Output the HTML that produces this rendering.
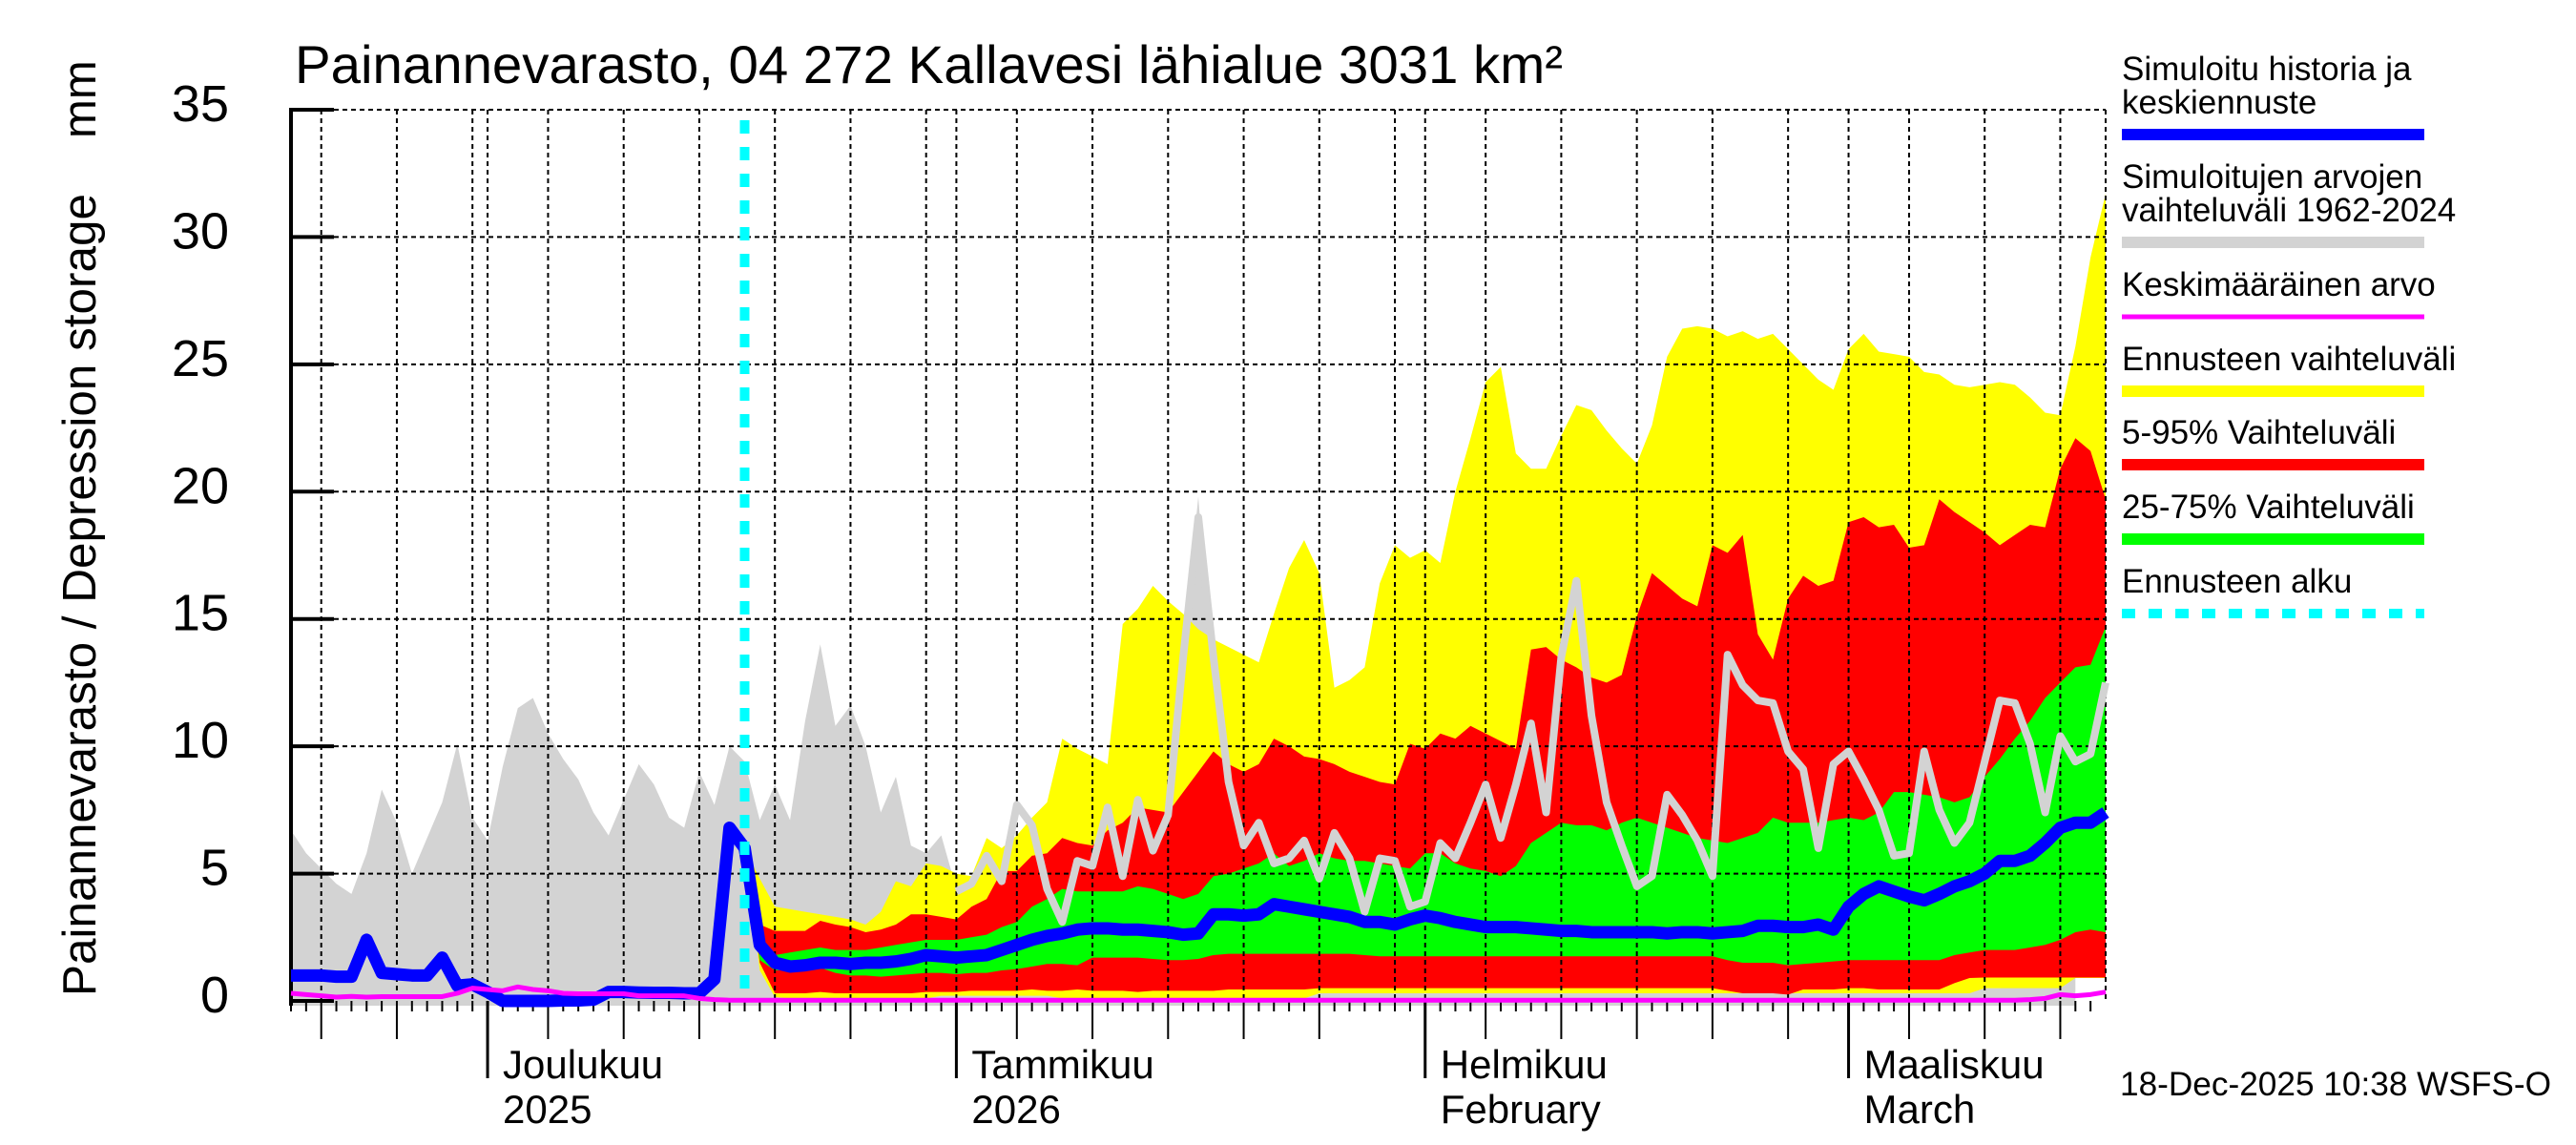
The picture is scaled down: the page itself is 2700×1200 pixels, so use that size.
<!DOCTYPE html>
<html><head><meta charset="utf-8"><title>Painannevarasto</title>
<style>
html,body{margin:0;padding:0;background:#fff;}
svg{display:block;font-family:"Liberation Sans",Arial,sans-serif;}
</style></head>
<body>
<svg id="chart" width="2700" height="1200" viewBox="0 0 2700 1200" xmlns="http://www.w3.org/2000/svg">
<rect x="0" y="0" width="2700" height="1200" fill="#fff"/>
<text x="309" y="87" font-size="56" textLength="1329" lengthAdjust="spacingAndGlyphs">Painannevarasto, 04 272 Kallavesi lähialue 3031 km²</text>
<text transform="translate(100,1044) rotate(-90)" font-size="49" textLength="841" lengthAdjust="spacingAndGlyphs">Painannevarasto / Depression storage</text>
<text transform="translate(100,145) rotate(-90)" font-size="49">mm</text>
<g id="fills"></g><g id="grid"></g><g id="axes"></g><g id="lines"></g>
<g id="legend"></g>
<text x="2222" y="1148" font-size="35" textLength="452" lengthAdjust="spacingAndGlyphs">18-Dec-2025 10:38 WSFS-O</text>
</svg>
<script>
// Day index 0 = 18 Nov 2025, 120 = 18 Mar 2026
const histMax = [6.7,5.8,5.2,4.6,4.2,5.8,8.3,7.0,5.0,6.4,7.8,10.1,7.2,6.3,9.2,11.5,11.9,10.5,9.5,8.7,7.4,6.5,7.9,9.3,8.5,7.2,6.8,9.0,7.7,10.0,9.4,7.1,8.5,7.1,11.0,14.0,10.8,11.6,10.0,7.4,8.8,6.1,5.8,6.5,4.4,4.6,2,2,2,2,2,2,2,2,2,2,2,2,2,14.0,19.8,12.0,2,2,2,2,2,2,2,2,2,2,2,2,2,2,2,2,2,2,2,2,2,2,2,2,2,2,2,2,2,2,2,2,2,2,2,2,2,2,2,2,2,2,2,2,2,2,0.4,0.4,0.5,0.5,0.5,0.5,0.6,0.8,0.9,0.9,0.9];
const simMean = [1.0,1.0,1.0,0.95,0.95,2.4,1.1,1.05,1.0,1.0,1.7,0.6,0.65,0.35,0,0,0,0,0.02,0.02,0.05,0.35,0.35,0.33,0.32,0.32,0.3,0.3,0.85,6.8,6.0,2.2,1.5,1.35,1.4,1.5,1.5,1.45,1.5,1.5,1.55,1.65,1.8,1.75,1.7,1.75,1.8,2.0,2.2,2.4,2.55,2.65,2.8,2.85,2.85,2.8,2.8,2.75,2.7,2.6,2.65,3.4,3.4,3.35,3.4,3.8,3.7,3.6,3.5,3.4,3.3,3.1,3.1,3.0,3.2,3.35,3.25,3.1,3.0,2.9,2.9,2.9,2.85,2.8,2.75,2.75,2.7,2.7,2.7,2.7,2.7,2.65,2.7,2.7,2.65,2.7,2.75,2.95,2.95,2.9,2.9,3.0,2.8,3.7,4.2,4.5,4.3,4.1,3.95,4.2,4.5,4.7,5.0,5.5,5.5,5.7,6.2,6.8,7.0,7.0,7.4];
const avgVal = [0.3,0.25,0.2,0.15,0.18,0.15,0.17,0.17,0.17,0.17,0.17,0.3,0.5,0.45,0.4,0.55,0.45,0.4,0.3,0.28,0.28,0.28,0.28,0.2,0.2,0.2,0.2,0.1,0.05,0.03,0.03,0.03,0.03,0.03,0.03,0.03,0.03,0.03,0.03,0.03,0.03,0.03,0.03,0.03,0.03,0.03,0.03,0.03,0.03,0.03,0.03,0.03,0.03,0.03,0.03,0.03,0.03,0.03,0.03,0.03,0.03,0.03,0.03,0.03,0.03,0.03,0.03,0.03,0.03,0.03,0.03,0.03,0.03,0.03,0.03,0.03,0.03,0.03,0.03,0.03,0.03,0.03,0.03,0.03,0.03,0.03,0.03,0.03,0.03,0.03,0.03,0.03,0.03,0.03,0.03,0.03,0.03,0.03,0.03,0.03,0.03,0.03,0.03,0.03,0.03,0.03,0.03,0.03,0.03,0.03,0.03,0.03,0.03,0.03,0.03,0.05,0.1,0.25,0.2,0.25,0.35];
// forecast series start at day 30
const fcStart = 30;
const fcMax = [6.0,4.8,3.7,3.6,3.5,3.4,3.3,3.2,3.0,3.5,4.7,4.5,5.4,5.3,5.0,4.9,6.4,6.0,6.5,7.2,7.8,10.3,9.9,9.6,9.3,14.8,15.4,16.3,15.7,15.2,14.6,14.2,13.9,13.6,13.3,15.2,17.0,18.1,16.8,12.3,12.6,13.1,16.4,17.9,17.4,17.7,17.2,20.0,22.1,24.3,24.9,21.5,20.9,20.9,22.2,23.4,23.2,22.4,21.7,21.1,22.6,25.3,26.4,26.5,26.4,26.1,26.3,26.0,26.2,25.6,25.0,24.4,24.0,25.6,26.2,25.5,25.4,25.3,24.7,24.6,24.2,24.1,24.2,24.3,24.2,23.7,23.1,23.0,25.7,29.2,31.7];
const fcP95 = [6.0,3.0,2.75,2.75,2.75,3.15,3.0,2.9,2.7,2.8,3.0,3.4,3.4,3.3,3.2,3.7,4.0,5.1,5.1,5.7,5.8,6.4,6.2,6.1,6.7,7.0,7.6,7.5,7.4,8.2,9.0,9.8,9.3,9.0,9.3,10.3,10.0,9.6,9.5,9.3,9.0,8.8,8.6,8.5,10.1,9.9,10.5,10.3,10.8,10.5,10.2,9.9,13.8,13.9,13.4,13.1,12.7,12.5,12.8,15.1,16.8,16.3,15.8,15.5,17.9,17.6,18.3,14.4,13.4,15.8,16.7,16.3,16.5,18.8,19.0,18.6,18.7,17.8,17.9,19.7,19.2,18.8,18.4,17.9,18.3,18.7,18.6,20.9,22.1,21.6,19.7];
const fcP75 = [6.0,2.4,1.8,1.9,2.0,2.1,2.0,2.0,2.0,2.1,2.2,2.3,2.4,2.4,2.4,2.5,2.6,2.9,3.1,3.7,4.0,4.4,4.3,4.3,4.3,4.3,4.5,4.4,4.2,4.0,4.2,4.9,5.0,5.2,5.4,5.8,5.3,5.5,5.8,5.6,5.5,5.5,5.4,5.3,5.2,5.8,5.8,5.4,5.2,5.1,4.9,5.3,6.2,6.6,7.0,6.9,6.9,6.7,7.0,7.2,7.0,6.8,6.6,6.4,6.3,6.2,6.4,6.6,7.2,7.0,7.0,7.0,7.1,7.2,7.1,7.4,8.2,8.2,8.1,8.0,7.8,8.0,8.8,9.5,10.3,11.0,11.9,12.5,13.1,13.2,14.7];
const fcP25 = [6.0,1.6,1.2,1.2,1.25,1.3,1.1,1.0,1.0,0.95,1.0,1.05,1.1,1.1,1.05,1.1,1.1,1.2,1.25,1.35,1.45,1.45,1.4,1.7,1.7,1.7,1.7,1.65,1.6,1.6,1.65,1.8,1.85,1.85,1.85,1.85,1.85,1.85,1.85,1.85,1.85,1.8,1.75,1.75,1.75,1.75,1.75,1.75,1.75,1.75,1.75,1.75,1.75,1.75,1.75,1.75,1.75,1.75,1.75,1.75,1.75,1.75,1.75,1.75,1.75,1.6,1.5,1.5,1.5,1.4,1.45,1.5,1.55,1.6,1.6,1.6,1.6,1.6,1.6,1.6,1.8,1.9,2.0,2.0,2.0,2.1,2.2,2.4,2.7,2.8,2.7];
const fcP5 = [6.0,1.5,0.3,0.3,0.3,0.35,0.3,0.3,0.3,0.3,0.3,0.3,0.35,0.35,0.35,0.4,0.4,0.4,0.4,0.45,0.4,0.4,0.45,0.4,0.4,0.4,0.35,0.4,0.4,0.4,0.4,0.4,0.45,0.45,0.45,0.45,0.45,0.45,0.5,0.5,0.5,0.5,0.5,0.5,0.5,0.5,0.5,0.5,0.5,0.5,0.5,0.5,0.5,0.5,0.5,0.5,0.5,0.5,0.5,0.5,0.5,0.5,0.5,0.5,0.5,0.4,0.3,0.3,0.3,0.25,0.45,0.45,0.45,0.5,0.5,0.45,0.45,0.45,0.45,0.45,0.7,0.9,0.92,0.92,0.92,0.92,0.92,0.92,0.92,0.92,0.92];
const fcMin = [6.0,1.2,0.15,0.1,0.1,0.1,0.1,0.1,0.1,0.1,0.1,0.1,0.1,0.2,0.2,0.2,0.2,0.2,0.2,0.2,0.2,0.1,0.1,0.1,0.1,0.1,0.1,0.1,0.1,0.1,0.1,0.1,0.1,0.1,0.1,0.1,0.1,0.1,0.3,0.3,0.3,0.3,0.3,0.3,0.3,0.3,0.3,0.3,0.3,0.3,0.3,0.3,0.3,0.3,0.3,0.3,0.3,0.3,0.3,0.3,0.3,0.3,0.3,0.3,0.3,0.3,0.3,0.3,0.3,0.3,0.3,0.3,0.3,0.3,0.3,0.3,0.3,0.3,0.3,0.3,0.3,0.3,0.5,0.5,0.5,0.5,0.5,0.5,0.9,0.9,0.9];
// one historical year trace, starts at day 44
const traceStart = 44;
const traceVal = [4.3,4.6,5.7,4.7,7.7,6.9,4.4,3.1,5.5,5.3,7.6,4.9,7.9,5.9,7.3,13.5,19.0,13.5,8.6,6.1,7.0,5.4,5.6,6.3,4.8,6.6,5.6,3.5,5.6,5.5,3.7,3.9,6.2,5.6,7.0,8.5,6.4,8.5,10.9,7.4,13.5,16.5,11.2,7.8,6.1,4.5,4.9,8.1,7.3,6.3,4.9,13.6,12.4,11.8,11.7,9.8,9.1,6.0,9.3,9.8,8.7,7.5,5.7,5.8,9.8,7.5,6.2,7.0,9.4,11.8,11.7,10.1,7.4,10.4,9.4,9.7,12.5];
const yTicks = [0,5,10,15,20,25,30,35];
const monthLabels = [["Joulukuu","2025"],["Tammikuu","2026"],["Helmikuu","February"],["Maaliskuu","March"]];
const forecastDay = 30;

const NS = "http://www.w3.org/2000/svg";
const X0 = 305, DX = 15.85, Y0 = 1049, YS = (1049-115)/35;
function xs(d){ return X0 + d*DX; }
function ys(v){ return Y0 - v*YS; }
function mk(tag, attrs, parent){
  const e = document.createElementNS(NS, tag);
  for (const k in attrs) e.setAttribute(k, attrs[k]);
  parent.appendChild(e); return e;
}
const fills = document.getElementById('fills');
const grid = document.getElementById('grid');
const axes = document.getElementById('axes');
const lines = document.getElementById('lines');
const legend = document.getElementById('legend');

// axis line
let ax = mk('line', {x1:305, y1:115, x2:305, y2:1054, stroke:'#000', 'stroke-width':4}, axes);



// gray history band
(function(){
  let pts = [];
  histMax.forEach((v,i)=>pts.push(xs(i)+','+ys(v)));
  pts.push(xs(histMax.length-1)+',1054'); pts.push(xs(0)+',1054');
  const p = mk('polygon', {points: pts.join(' '), fill:'#d3d3d3'}, fills);
  
  
})();
function band(up, lo, color, name){
  let pts = [];
  up.forEach((v,i)=>pts.push(xs(fcStart+i)+','+ys(v)));
  for (let i=lo.length-1;i>=0;i--) pts.push(xs(fcStart+i)+','+ys(lo[i]));
  const p = mk('polygon', {points: pts.join(' '), fill: color}, fills);
  
  
}
band(fcMax, fcMin, '#ffff00', 'forecast-range-band');
band(fcP95, fcP5, '#ff0000', 'forecast-5-95-band');
band(fcP75, fcP25, '#00ff00', 'forecast-25-75-band');

// grid + ticks
const start = new Date(2025, 10, 18);
let mi = 0;
for (let d=0; d<=120; d++){
  const dt = new Date(start.getFullYear(), start.getMonth(), start.getDate()+d);
  const dom = dt.getDate();
  const x = xs(d);
  const isGrid = (dom % 5 === 0) || dom === 1;
  if (isGrid || d === 120){
    const g = mk('line', {x1:x, y1:115, x2:x, y2:Y0, stroke:'#000', 'stroke-width':2, 'stroke-dasharray':'5,4'}, grid);
    
    
  }
  let len = 11;
  if (dom === 1) len = 81; else if (dom % 5 === 0 && dom <= 25) len = 40;
  if (d < 120){
    const t = mk('line', {x1:x, y1:Y0, x2:x, y2:Y0+len, stroke:'#000', 'stroke-width': dom===1?3:2}, axes);
    
    
  }
  if (dom === 1 && mi < monthLabels.length){
    const t1 = mk('text', {x:x+16, y:1130, 'font-size':42}, axes);
    t1.textContent = monthLabels[mi][0];
    
    
    const t2 = mk('text', {x:x+16, y:1177, 'font-size':42}, axes);
    t2.textContent = monthLabels[mi][1];
    
    
    mi++;
  }
}
yTicks.forEach(v=>{
  const y = ys(v);
  if (v > 0){
    const g = mk('line', {x1:305, y1:y, x2:2207, y2:y, stroke:'#000', 'stroke-width':2, 'stroke-dasharray':'5,4'}, grid);
    
    
  }
  const t = mk('line', {x1:303, y1:y, x2:350, y2:y, stroke:'#000', 'stroke-width':4}, axes);
  
  
  const l = mk('text', {x:240, y:y+12, 'font-size':54, 'text-anchor':'end'}, axes);
  l.textContent = String(v);
  
  
});

function poly(vals, off, color, w, name){
  const pts = vals.map((v,i)=>xs(off+i)+','+ys(v)).join(' ');
  const p = mk('polyline', {points:pts, fill:'none', stroke:color, 'stroke-width':w, 'stroke-linejoin':'round'}, lines);
  
  
}
poly(traceVal, traceStart, '#d3d3d3', 8, 'history-year-line');
poly(simMean, 0, '#0000ff', 13, 'simulated-mean-line');
poly(avgVal, 0, '#ff00ff', 5, 'average-value-line');
const fl = mk('line', {x1:xs(forecastDay), y1:126, x2:xs(forecastDay), y2:1045, stroke:'#00ffff', 'stroke-width':10, 'stroke-dasharray':'14,14'}, lines);



// legend
const legItems = [
  [["Simuloitu historia ja","keskiennuste"], '#0000ff', 12, 141, null],
  [["Simuloitujen arvojen","vaihteluväli 1962-2024"], '#d3d3d3', 12, 254, null],
  [["Keskimääräinen arvo"], '#ff00ff', 5, 332, null],
  [["Ennusteen vaihteluväli"], '#ffff00', 12, 410, null],
  [["5-95% Vaihteluväli"], '#ff0000', 12, 487, null],
  [["25-75% Vaihteluväli"], '#00ff00', 12, 565, null],
  [["Ennusteen alku"], '#00ffff', 10, 643, '14,14']
];
legItems.forEach(it=>{
  const [txt, col, w, ly, dash] = it;
  const g = mk('g', {}, legend);
  
  
  txt.forEach((s,k)=>{
    const baseY = ly - 22 - (txt.length-1-k)*35;
    const t = mk('text', {x:2224, y:baseY, 'font-size':35}, g);
    t.textContent = s;
    
    
  });
  const a = {x1:2224, y1:ly, x2:2541, y2:ly, stroke:col, 'stroke-width':w};
  if (dash) a['stroke-dasharray'] = dash;
  const l = mk('line', a, g);
  
  
});
</script>
</body></html>
